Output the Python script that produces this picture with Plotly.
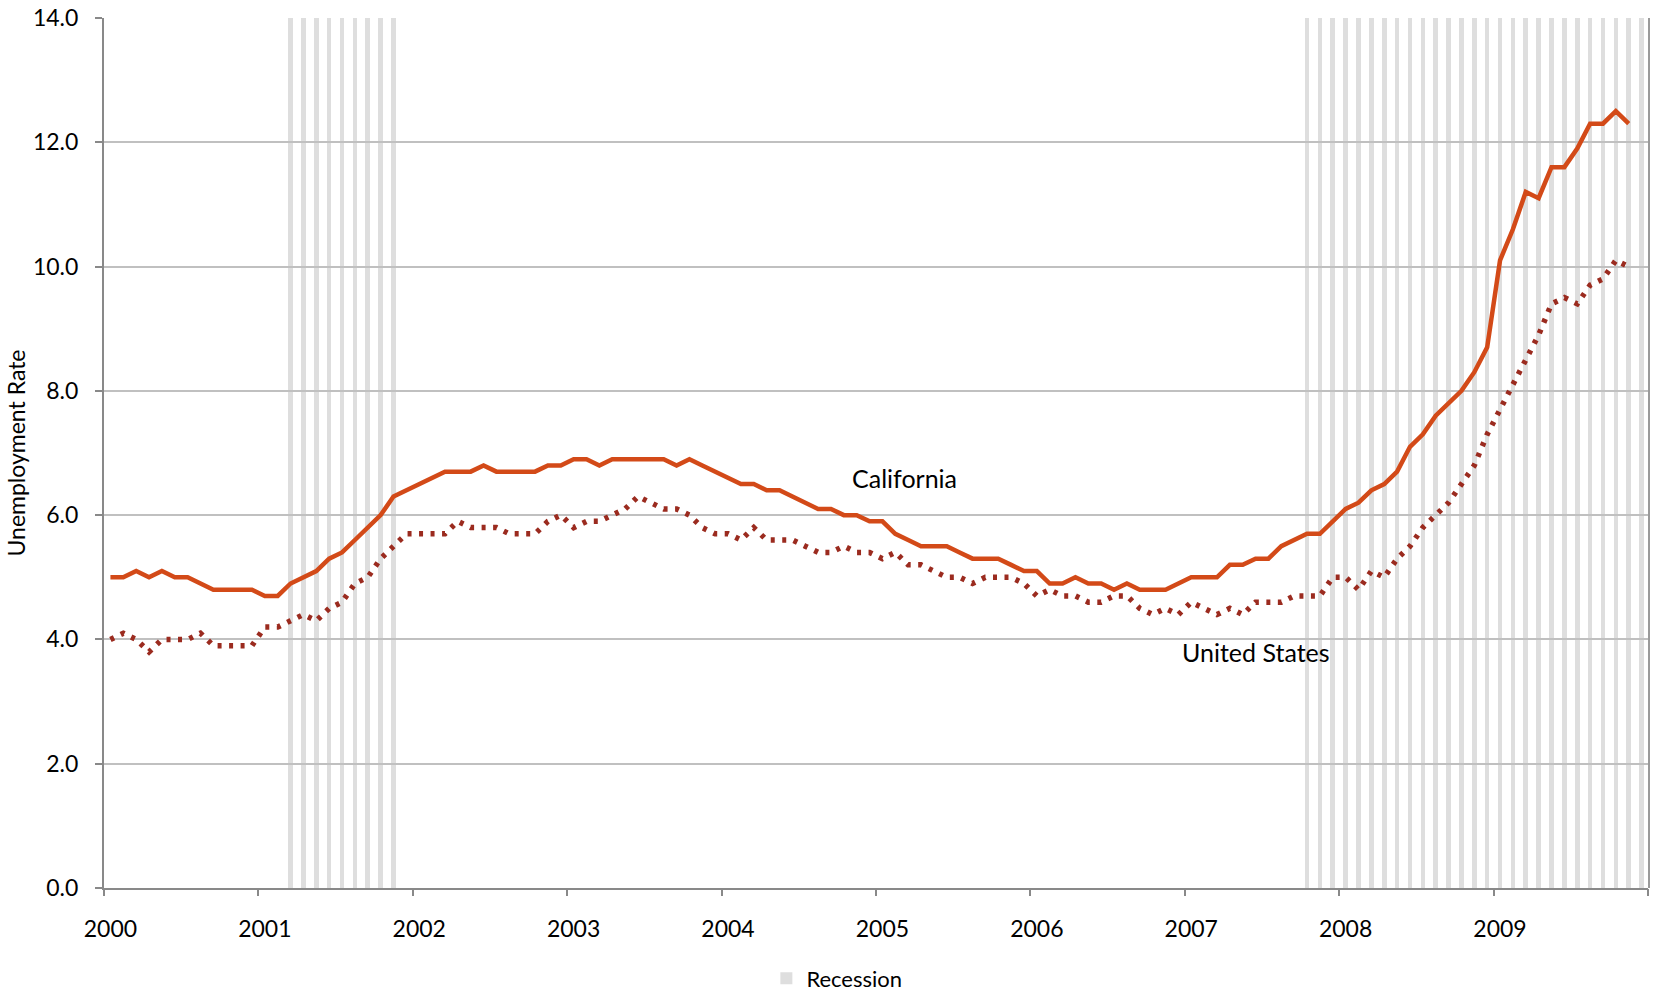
import plotly.graph_objects as go
import pandas as pd

# ---- data -------------------------------------------------------------
months = pd.date_range("2000-01-01", "2009-12-01", freq="MS").strftime("%Y-%m").tolist()
year_labels = ["2000", "2001", "2002", "2003", "2004", "2005", "2006", "2007", "2008", "2009"]

# California unemployment rate, Jan 2000 - Nov 2009
california = [
    5.0, 5.0, 5.1, 5.0, 5.1, 5.0, 5.0, 4.9, 4.8, 4.8, 4.8, 4.8,   # 2000
    4.7, 4.7, 4.9, 5.0, 5.1, 5.3, 5.4, 5.6, 5.8, 6.0, 6.3, 6.4,   # 2001
    6.5, 6.6, 6.7, 6.7, 6.7, 6.8, 6.7, 6.7, 6.7, 6.7, 6.8, 6.8,   # 2002
    6.9, 6.9, 6.8, 6.9, 6.9, 6.9, 6.9, 6.9, 6.8, 6.9, 6.8, 6.7,   # 2003
    6.6, 6.5, 6.5, 6.4, 6.4, 6.3, 6.2, 6.1, 6.1, 6.0, 6.0, 5.9,   # 2004
    5.9, 5.7, 5.6, 5.5, 5.5, 5.5, 5.4, 5.3, 5.3, 5.3, 5.2, 5.1,   # 2005
    5.1, 4.9, 4.9, 5.0, 4.9, 4.9, 4.8, 4.9, 4.8, 4.8, 4.8, 4.9,   # 2006
    5.0, 5.0, 5.0, 5.2, 5.2, 5.3, 5.3, 5.5, 5.6, 5.7, 5.7, 5.9,   # 2007
    6.1, 6.2, 6.4, 6.5, 6.7, 7.1, 7.3, 7.6, 7.8, 8.0, 8.3, 8.7,   # 2008
    10.1, 10.6, 11.2, 11.1, 11.6, 11.6, 11.9, 12.3, 12.3, 12.5, 12.3,  # 2009
]

# United States unemployment rate, Jan 2000 - Nov 2009
united_states = [
    4.0, 4.1, 4.0, 3.8, 4.0, 4.0, 4.0, 4.1, 3.9, 3.9, 3.9, 3.9,   # 2000
    4.2, 4.2, 4.3, 4.4, 4.3, 4.5, 4.6, 4.9, 5.0, 5.3, 5.5, 5.7,   # 2001
    5.7, 5.7, 5.7, 5.9, 5.8, 5.8, 5.8, 5.7, 5.7, 5.7, 5.9, 6.0,   # 2002
    5.8, 5.9, 5.9, 6.0, 6.1, 6.3, 6.2, 6.1, 6.1, 6.0, 5.8, 5.7,   # 2003
    5.7, 5.6, 5.8, 5.6, 5.6, 5.6, 5.5, 5.4, 5.4, 5.5, 5.4, 5.4,   # 2004
    5.3, 5.4, 5.2, 5.2, 5.1, 5.0, 5.0, 4.9, 5.0, 5.0, 5.0, 4.9,   # 2005
    4.7, 4.8, 4.7, 4.7, 4.6, 4.6, 4.7, 4.7, 4.5, 4.4, 4.5, 4.4,   # 2006
    4.6, 4.5, 4.4, 4.5, 4.4, 4.6, 4.6, 4.6, 4.7, 4.7, 4.7, 5.0,   # 2007
    5.0, 4.8, 5.1, 5.0, 5.3, 5.5, 5.8, 6.0, 6.2, 6.5, 6.8, 7.3,   # 2008
    7.7, 8.1, 8.5, 8.9, 9.4, 9.5, 9.4, 9.7, 9.8, 10.1, 10.0,      # 2009
]

# NBER-style recession shading (inclusive month ranges)
recession_periods = [("2001-03", "2001-11"), ("2007-10", "2009-12")]
y_max = 14.0

# ---- derived positions (category axis: one slot per month) ------------
pos = {m: i + 0.5 for i, m in enumerate(months)}
ca_x = [pos[m] for m in months[:len(california)]]
us_x = [pos[m] for m in months[:len(united_states)]]
rec_months = [m for m in months if any(a <= m <= b for a, b in recession_periods)]
rec_x = [pos[m] for m in rec_months]
rec_y = [y_max] * len(rec_months)

year_tick_pos = [pos[f"{y}-01"] for y in year_labels]
year_bounds = [months.index(f"{y}-01") for y in year_labels] + [len(months)]

FONT = "Lato"
AXIS_GRAY = "#898989"

fig = go.Figure()

fig.add_trace(go.Bar(
    x=rec_x, y=rec_y, width=0.36, name="Recession",
    marker=dict(color="#dedede", line=dict(width=0)),
    xaxis="x", yaxis="y", hoverinfo="skip", showlegend=True,
))

fig.add_trace(go.Scatter(
    x=us_x, y=united_states, mode="lines", name="United States",
    line=dict(color="#9b2b1f", width=5.5, dash="4px,7.5px"),
    xaxis="x2", yaxis="y2", showlegend=False,
))

fig.add_trace(go.Scatter(
    x=ca_x, y=california, mode="lines", name="California",
    line=dict(color="#d34a18", width=4.5),
    xaxis="x2", yaxis="y2", showlegend=False,
))

fig.add_annotation(x=pos["2005-03"], y=6.6, xref="x2", yref="y2", text="California",
                   xshift=-4, showarrow=False, font=dict(family=FONT, size=25, color="#000000"))
fig.add_annotation(x=pos["2007-06"], y=3.8, xref="x2", yref="y2", text="United States",
                   showarrow=False, font=dict(family=FONT, size=25, color="#000000"))

fig.update_layout(
    width=1654, height=991,
    margin=dict(l=104, r=6, t=18, b=103, autoexpand=False),
    paper_bgcolor="white", plot_bgcolor="rgba(0,0,0,0)",
    font=dict(family=FONT, size=23, color="#000000"),
    bargap=0,
    xaxis=dict(
        domain=[0, 1], range=[0, len(months)], anchor="y",
        tickmode="array", tickvals=year_bounds, ticks="outside", ticklen=7,
        tickwidth=1.5, tickcolor=AXIS_GRAY, showticklabels=False,
        showline=False, showgrid=False, zeroline=False, automargin=False,
    ),
    yaxis=dict(
        domain=[0, 1], range=[0, y_max], anchor="x", side="right",
        showline=True, linecolor="#9a9a9a", linewidth=2,
        showticklabels=False, ticks="", showgrid=False, zeroline=False, automargin=False,
    ),
    xaxis2=dict(
        domain=[0, 1], range=[0, len(months)], anchor="y2",
        tickmode="array", tickvals=year_tick_pos, ticktext=year_labels,
        ticks="", showline=True, linecolor=AXIS_GRAY, linewidth=2,
        showgrid=False, zeroline=False, ticklabelstandoff=19, automargin=False,
        tickfont=dict(family=FONT, size=23),
    ),
    yaxis2=dict(
        domain=[0, 1], range=[0, y_max], anchor="x2",
        tickmode="linear", tick0=0, dtick=2, tickformat=".1f",
        ticks="outside", ticklen=7, tickwidth=1.5, tickcolor=AXIS_GRAY,
        showline=True, linecolor=AXIS_GRAY, linewidth=2,
        showgrid=True, gridcolor="#c0c0c0", gridwidth=1.5, zeroline=False,
        ticklabelstandoff=12, automargin=False,
        tickfont=dict(family=FONT, size=23),
        title=dict(text="Unemployment Rate", font=dict(family=FONT, size=23), standoff=1),
    ),
    legend=dict(
        orientation="h", x=0.429, xanchor="left", y=-0.104, yanchor="middle",
        font=dict(family=FONT, size=22), bgcolor="rgba(0,0,0,0)",
        itemwidth=30,
    ),
)

fig.write_html(
    "out.html",
    config={"displayModeBar": False},
    post_script="document.body.style.margin='0px';document.body.style.overflow='hidden';",
)
